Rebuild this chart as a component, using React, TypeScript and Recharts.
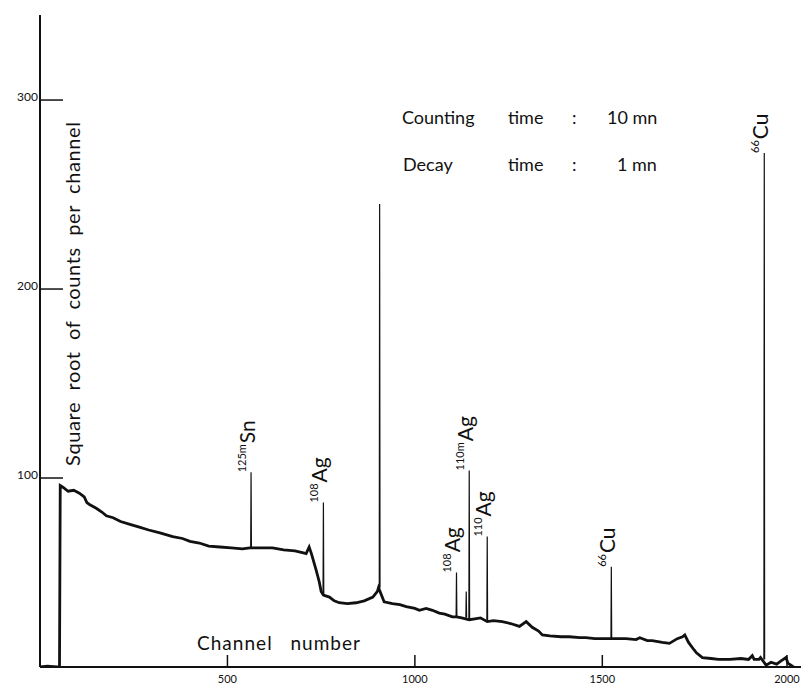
import React from "react";
import { LineChart, Line, XAxis, YAxis, ReferenceDot } from "recharts";

// continuum, channel -> sqrt(counts)
const channels = [
  0, 20, 45, 52, 54, 62, 75, 90, 105, 118, 125, 132, 150, 165, 177, 195, 215, 240, 265, 290, 320, 354, 380, 400,
  425, 450, 480, 510, 540, 560, 590, 620, 650, 680, 700, 710, 718, 724, 737, 745, 750, 756, 772, 785, 798, 820,
  843, 865, 888, 900, 903, 915, 918, 940, 960, 977, 1000, 1012, 1030, 1047, 1065, 1080, 1100, 1111, 1125, 1145,
  1160, 1175, 1193, 1210, 1233, 1255, 1279, 1297, 1313, 1330, 1340, 1360, 1390, 1412, 1440, 1456, 1480, 1500,
  1524, 1545, 1563, 1590, 1600, 1620, 1633, 1660, 1679, 1700, 1714, 1720, 1730, 1745, 1751, 1767, 1790, 1810,
  1840, 1870, 1890, 1900, 1905, 1918, 1922, 1937, 1950, 1965, 1975, 1990, 1995, 2010,
];
const sqrtCounts = [
  0, 0.5, 0, 0, 96, 95, 93, 93.5, 92, 90, 87, 86, 84, 82, 80, 79, 77, 75.5, 74, 72.5, 71, 69, 68, 66.5,
  65.6, 64, 63.5, 63, 62.5, 63, 63, 63, 62, 61.5, 60.5, 60, 63.5, 60, 51, 45, 40, 38, 37, 35, 34, 33.5,
  34, 35, 37, 40, 42, 36, 34.5, 33.5, 33, 32, 31, 30, 31, 30, 28.5, 28, 26.5, 26.5, 26, 25,
  25.5, 26, 24, 24.5, 24, 23, 21.5, 24, 21, 19, 17, 16.5, 16, 16, 15.5, 15.5, 15, 15,
  15, 15, 15, 14.5, 15.5, 14, 14, 13, 12.5, 15, 16, 17, 13, 9, 7.5, 5, 4.5, 4,
  4, 4.5, 4, 6, 4, 4, 5, 1, 2.5, 1.5, 3, 5, 2, 0,
];

// gamma peaks
const peakChannels = [563, 756, 906, 1111, 1137, 1145, 1193, 1524, 1932];
const peakBases = [63, 38, 42, 27, 26, 25, 24, 15, 4];
const peakTops = [103, 87, 245, 50, 40, 104, 69, 53, 272];

const labelChannels = [563, 756, 1111, 1145, 1193, 1524, 1932];
const labelTops = [103, 87, 50, 104, 69, 53, 272];
const labelMass = ["125m", "108", "108", "110m", "110", "66", "66"];
const labelSymbol = ["Sn", "Ag", "Ag", "Ag", "Ag", "Cu", "Cu"];

const xTicks = [500, 1000, 1500, 2000];
const yTicks = [100, 200, 300];

const continuum = channels.map((ch, i) => ({ ch, v: sqrtCounts[i] }));
const peaks = peakChannels.flatMap((c, i) => [
  { ch: c - 1, v: peakBases[i] },
  { ch: c, v: peakTops[i] },
  { ch: c + 1, v: peakBases[i] },
  { ch: c + 1.5, v: null },
]);

const ink = "#111";
const font = "Lato, 'DejaVu Sans', sans-serif";

const YTick = ({ x, y, payload }: any) => (
  <g>
    <line x1={x} y1={y} x2={x + 23} y2={y} stroke={ink} strokeWidth={1.5} />
    <text x={x - 2} y={y + 1} textAnchor="end" fontSize={12} fontFamily={font} fill={ink}>
      {payload.value}
    </text>
  </g>
);

const XTick = ({ x, y, payload }: any) => (
  <g>
    <line x1={x} y1={y} x2={x} y2={y - 12} stroke={ink} strokeWidth={1.5} />
    <text x={x} y={y + 16} textAnchor="middle" fontSize={11} fontFamily={font} fill={ink}>
      {payload.value}
    </text>
  </g>
);

const PeakLabel = ({ cx, cy, mass, symbol }: any) => (
  <text transform={`translate(${cx + 4},${cy}) rotate(-90)`} fontFamily={font} fill={ink}>
    <tspan fontSize={11} dy={-9}>{mass}</tspan>
    <tspan fontSize={21} dy={9} dx={1}>{symbol}</tspan>
  </text>
);

export default function App() {
  return (
    <div style={{ position: "absolute", left: 0, top: 0, width: 803, height: 696, background: "#fff" }}>
      <LineChart width={803} height={696} margin={{ top: 15, right: 2, bottom: 0, left: 0 }}>
        <XAxis
          dataKey="ch"
          type="number"
          domain={[0, 2030]}
          ticks={xTicks}
          height={29}
          tickSize={0}
          tickMargin={0}
          tick={<XTick />}
          axisLine={{ stroke: ink, strokeWidth: 2 }}
          allowDataOverflow
        />
        <YAxis
          type="number"
          domain={[0, 345]}
          ticks={yTicks}
          width={40}
          tickSize={0}
          tickMargin={0}
          tick={<YTick />}
          axisLine={{ stroke: ink, strokeWidth: 2 }}
          allowDataOverflow
        />
        <Line
          data={continuum}
          dataKey="v"
          type="linear"
          stroke={ink}
          strokeWidth={2.8}
          dot={false}
          isAnimationActive={false}
        />
        <Line
          data={peaks}
          dataKey="v"
          type="linear"
          stroke={ink}
          strokeWidth={1.2}
          dot={false}
          isAnimationActive={false}
        />
        {labelChannels.map((ch, i) => (
          <ReferenceDot
            key={i}
            x={ch}
            y={labelTops[i]}
            r={0}
            shape={(p: any) => <PeakLabel cx={p.cx} cy={p.cy} mass={labelMass[i]} symbol={labelSymbol[i]} />}
          />
        ))}
      </LineChart>
      <svg
        width={803}
        height={696}
        style={{ position: "absolute", left: 0, top: 0, pointerEvents: "none" }}
        fontFamily={font}
        fill={ink}
      >
        <text fontSize={18}>
          <tspan x={402} y={124}>Counting</tspan>
          <tspan x={508} y={124}>time</tspan>
          <tspan x={572} y={124}>:</tspan>
          <tspan x={607} y={124}>10 mn</tspan>
        </text>
        <text fontSize={18}>
          <tspan x={403} y={171}>Decay</tspan>
          <tspan x={508} y={171}>time</tspan>
          <tspan x={572} y={171}>:</tspan>
          <tspan x={617} y={171}>1 mn</tspan>
        </text>
        <text
          transform="translate(80,466) rotate(-90)"
          fontSize={20}
          textLength={344}
          lengthAdjust="spacing"
          style={{ whiteSpace: "pre" }}
        >
          Square  root  of  counts  per  channel
        </text>
        <text x={197} y={650} fontSize={19} textLength={163} lengthAdjust="spacing" style={{ whiteSpace: "pre" }}>
          Channel   number
        </text>
      </svg>
    </div>
  );
}
